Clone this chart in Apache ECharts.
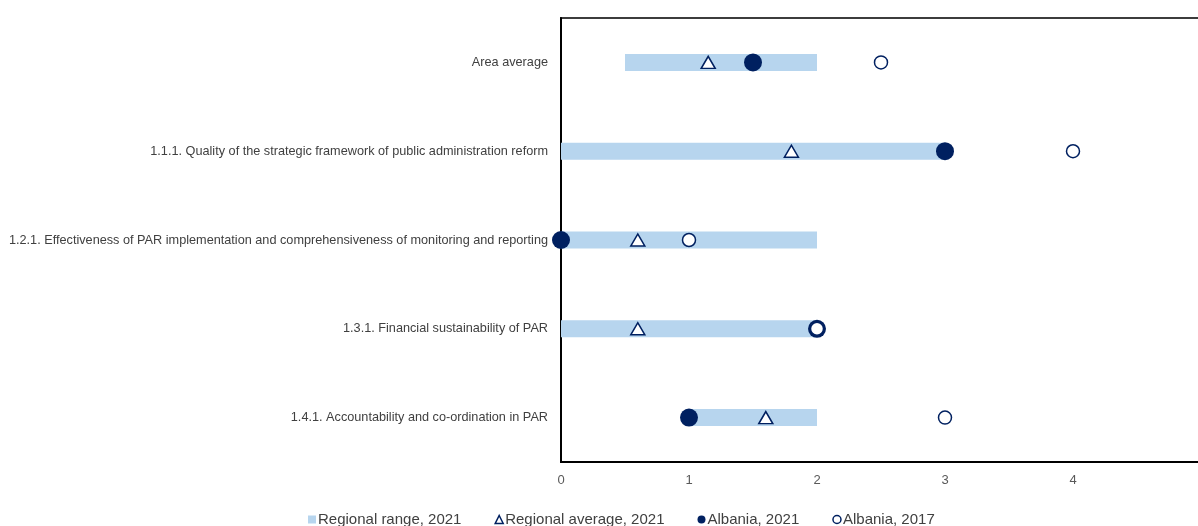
<!DOCTYPE html>
<html>
<head>
<meta charset="utf-8">
<script src="https://cdn.jsdelivr.net/npm/echarts@6/dist/echarts.min.js"></script>
<style>
  html, body { margin: 0; padding: 0; background: #fff; }
  #chart { width: 1198px; height: 526px; }
</style>
</head>
<body>
<div id="chart"></div>
<script>
// ===== data =====
const categories = [
  'Area average',
  '1.1.1. Quality of the strategic framework of public administration reform',
  '1.2.1. Effectiveness of PAR implementation and comprehensiveness of monitoring and reporting',
  '1.3.1. Financial sustainability of PAR',
  '1.4.1. Accountability and co-ordination in PAR'
]
const rangeLow = [0.5, 0, 0, 0, 1]
const rangeHigh = [2, 3, 2, 2, 2]
const regionalAvg = [1.15, 1.8, 0.6, 0.6, 1.6]
const albania2021 = [1.5, 3, 0, 2, 1]
const albania2017 = [2.5, 4, 1, 2, 3]
const xTicks = [0, 1, 2, 3, 4, 5]

const navy = '#002060'
const lightBlue = '#b7d5ee'
const font = '"Liberation Sans", Arial, sans-serif'

const chart = echarts.init(document.getElementById('chart'))

chart.setOption({
  animation: false,
  textStyle: { fontFamily: font },
  grid: {
    left: 561,
    top: 18,
    width: 640,
    height: 444,
    show: true,
    borderColor: '#3c3c3c',
    borderWidth: 2,
    containLabel: false,
    outerBoundsMode: 'none'
  },
  legend: {
    top: 507,
    left: 303,
    itemWidth: 8,
    itemHeight: 8,
    itemGap: 33,
    textStyle: { fontFamily: font, fontSize: 15, color: '#404040', padding: [0, 0, 0, -3] },
    data: [
      { name: 'Regional range, 2021', icon: 'rect' },
      { name: 'Regional average, 2021', icon: 'triangle', itemStyle: { color: '#fff', borderColor: navy, borderWidth: 1.5, opacity: 1 } },
      { name: 'Albania, 2021', icon: 'circle' },
      { name: 'Albania, 2017', icon: 'circle', itemStyle: { color: '#fff', borderColor: navy, borderWidth: 1.5, opacity: 1 } }
    ]
  },
  xAxis: {
    type: 'value',
    min: xTicks[0],
    max: xTicks[xTicks.length - 1],
    interval: 1,
    axisLine: { show: true, onZero: false, lineStyle: { color: '#000', width: 2 } },
    axisTick: { show: false },
    splitLine: { show: false },
    axisLabel: { color: '#595959', fontSize: 13, margin: 12, fontFamily: font, showMaxLabel: true }
  },
  yAxis: {
    type: 'category',
    inverse: true,
    data: categories,
    axisLine: { show: true, lineStyle: { color: '#000', width: 2 } },
    axisTick: { show: false },
    axisLabel: { color: '#404040', fontSize: 12.7, margin: 13, fontFamily: font }
  },
  series: [
    {
      name: 'base',
      type: 'bar',
      stack: 'range',
      barWidth: 17,
      silent: true,
      itemStyle: { color: 'transparent' },
      data: rangeLow
    },
    {
      name: 'Regional range, 2021',
      type: 'bar',
      stack: 'range',
      barWidth: 17,
      itemStyle: { color: lightBlue },
      data: rangeHigh.map((h, i) => h - rangeLow[i])
    },
    {
      name: 'Regional average, 2021',
      type: 'scatter',
      symbol: 'triangle',
      symbolSize: [14, 12],
      clip: false,
      itemStyle: { color: '#fff', borderColor: navy, borderWidth: 1.5, opacity: 1 },
      data: regionalAvg.map((v, i) => [v, i])
    },
    {
      name: 'Albania, 2021',
      type: 'scatter',
      symbol: 'circle',
      symbolSize: 18,
      clip: false,
      itemStyle: { color: navy, opacity: 1 },
      data: albania2021.map((v, i) => [v, i])
    },
    {
      name: 'Albania, 2017',
      type: 'scatter',
      symbol: 'circle',
      symbolSize: 13,
      clip: false,
      itemStyle: { color: '#fff', borderColor: navy, borderWidth: 1.5, opacity: 1 },
      data: albania2017.map((v, i) => [v, i])
    }
  ]
})
</script>
</body>
</html>
